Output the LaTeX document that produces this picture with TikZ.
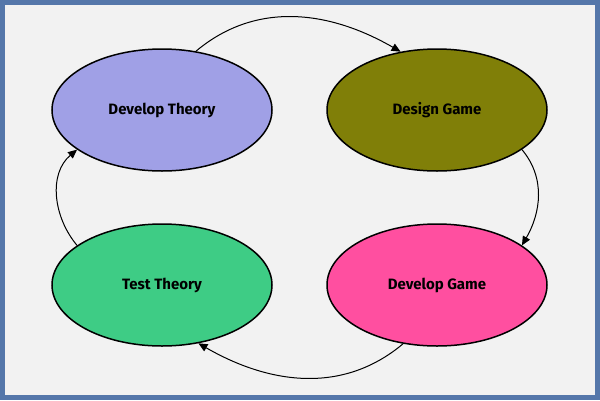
\documentclass[tikz,border=0pt]{standalone}
\usepackage{fontspec}
\setmainfont{Fira Sans}
\usetikzlibrary{arrows.meta,shapes.geometric}
\definecolor{frame}{HTML}{5577AA}
\definecolor{bg}{HTML}{F2F2F2}
\definecolor{cA}{HTML}{A0A0E6}
\definecolor{cB}{HTML}{807F08}
\definecolor{cC}{HTML}{FF4FA0}
\definecolor{cD}{HTML}{3ECC85}
\begin{document}
\begin{tikzpicture}[x=1pt,y=-1pt,
  stage/.style={ellipse,draw=black,line width=1.5pt,minimum width=220pt,minimum height=122pt,font=\fontsize{15}{18}\selectfont\bfseries,inner sep=0pt},
  link/.style={-{Triangle[length=9pt,width=8pt]},line width=1pt}]
\fill[frame] (0,0) rectangle (600,400);
\fill[bg] (5,5) rectangle (595,395);
\useasboundingbox (0,0) rectangle (600,400);
\node[stage,fill=cA] (dt) at (162,110) {Develop Theory};
\node[stage,fill=cB] (dg) at (437,110) {Design Game};
\node[stage,fill=cC] (dv) at (437,285) {Develop Game};
\node[stage,fill=cD] (tt) at (162,285) {Test Theory};
\draw[link] (dt.60) to[out=40,in=150] (dg.122);
\draw[link] (dg.-25) to[out=-50,in=60] (dv.25);
\draw[link] (dv.-120) to[out=-140,in=-30] (tt.-58);
\draw[link] (tt.155) to[out=130,in=-140] (dt.-155);
\end{tikzpicture}
\end{document}
